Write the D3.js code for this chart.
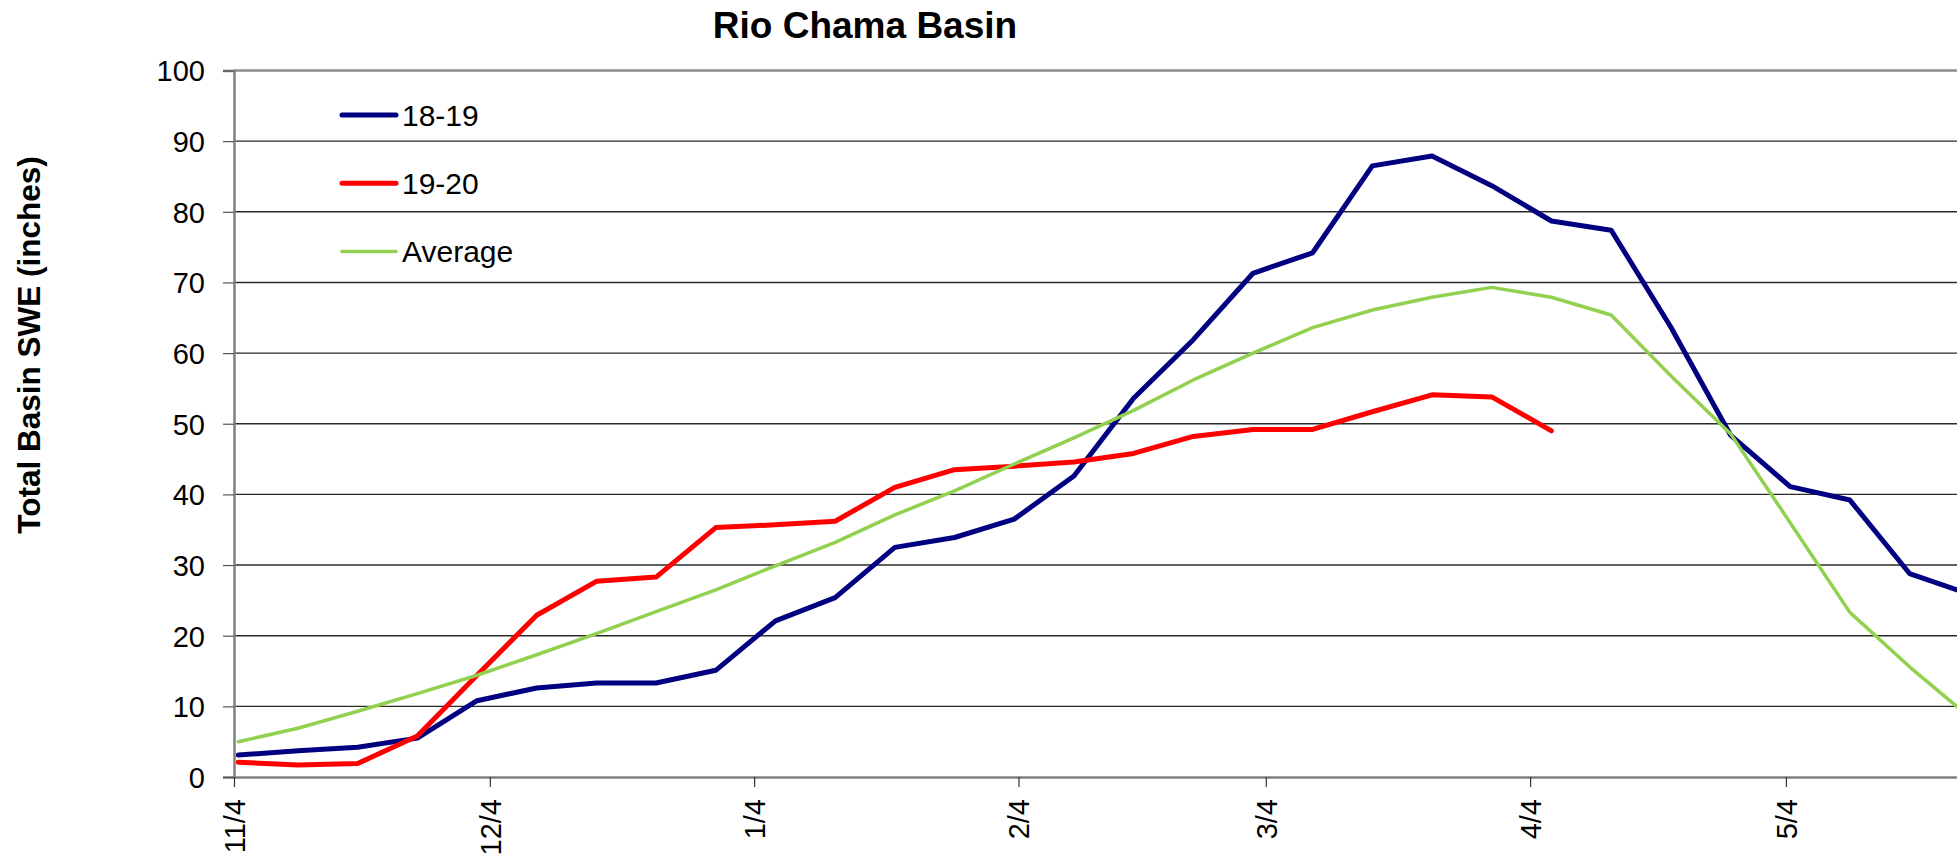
<!DOCTYPE html>
<html>
<head>
<meta charset="utf-8">
<script src="https://cdn.jsdelivr.net/npm/d3@7"></script>
<style>
  body { margin: 0; background: #fff; }
  text { font-family: "Liberation Sans", Arial, sans-serif; fill: #000; }
</style>
</head>
<body>
<div id="chart"></div>
<script>
// weekly dates (axis year 2019-20)
var dates = ["2019-11-04","2019-11-11","2019-11-18","2019-11-25","2019-12-02","2019-12-09",
  "2019-12-16","2019-12-23","2019-12-30","2020-01-06","2020-01-13","2020-01-20","2020-01-27",
  "2020-02-03","2020-02-10","2020-02-17","2020-02-24","2020-03-02","2020-03-09","2020-03-16",
  "2020-03-23","2020-03-30","2020-04-06","2020-04-13","2020-04-20","2020-04-27","2020-05-04",
  "2020-05-11","2020-05-18","2020-05-25"];

var swe1819 = [3.1, 3.7, 4.2, 5.5, 10.8, 12.6, 13.3, 13.3, 15.1, 22.1, 25.4, 32.5, 33.9, 36.5,
  42.6, 53.6, 61.9, 71.3, 74.2, 86.5, 87.9, 83.7, 78.7, 77.4, 63.7, 48.4, 41.1, 39.2, 28.8, 25.9];
var swe1920 = [2.1, 1.7, 1.9, 5.8, 14.4, 22.9, 27.7, 28.3, 35.3, 35.7, 36.2, 41.0, 43.5, 44.0,
  44.6, 45.8, 48.2, 49.2, 49.2, 51.7, 54.1, 53.8, 49.0];
var sweAvg = [5.0, 6.9, 9.3, 11.8, 14.4, 17.3, 20.3, 23.4, 26.5, 29.9, 33.2, 37.1, 40.5, 44.3,
  48.0, 51.9, 56.2, 60.0, 63.6, 66.1, 67.9, 69.3, 67.9, 65.4, 56.8, 48.6, 36.0, 23.3, 15.6, 8.5];

var xTickDates = ["2019-11-04","2019-12-04","2020-01-04","2020-02-04","2020-03-04","2020-04-04","2020-05-04"];
var yTicks = [0, 10, 20, 30, 40, 50, 60, 70, 80, 90, 100];

var seriesNames = ["18-19", "19-20", "Average"];
var seriesColors = ["#000080", "#ff0000", "#92d050"];
var seriesWidths = [5, 5, 3.5];

var width = 1957, height = 859;
var margin = {top: 70.5, left: 234, bottom: 82};
var plotBottom = height - margin.bottom;

var parse = d3.timeParse("%Y-%m-%d");
var fmt = d3.timeFormat("%-m/%-d");
var halfDay = 12 * 3600 * 1000;

var svg = d3.select("#chart").append("svg")
  .attr("width", width)
  .attr("height", height);

// x runs a bit past the right edge, the picture is cut there
var x = d3.scaleTime()
  .domain([parse("2019-11-04"), parse("2020-05-25")])
  .range([margin.left, margin.left + 203 * 8.527]);

var y = d3.scaleLinear()
  .domain([0, 100])
  .range([plotBottom, margin.top]);

// gridlines
svg.append("g").selectAll("line")
  .data(yTicks.filter(d => d > 0 && d < 100))
  .enter().append("line")
  .attr("x1", margin.left).attr("x2", width)
  .attr("y1", d => y(d)).attr("y2", d => y(d))
  .style("stroke", "#2a2a2a")
  .style("stroke-width", 1.4);

// top border of plot area
svg.append("line")
  .attr("x1", margin.left).attr("x2", width)
  .attr("y1", y(100)).attr("y2", y(100))
  .style("stroke", "#8c8c8c").style("stroke-width", 2.5);

// y axis
var yAxis = d3.axisLeft(y).tickValues(yTicks).tickSize(11).tickPadding(18);
var gy = svg.append("g")
  .attr("transform", "translate(" + margin.left + ",0)")
  .call(yAxis);
gy.select(".domain").style("stroke", "#808080").style("stroke-width", 2.5);
gy.selectAll(".tick line").style("stroke", "#555").style("stroke-width", 1.2);
gy.selectAll(".tick text")
  .style("font-size", "29px")
  .style("font-family", "'Liberation Sans', Arial, sans-serif")
  .attr("dy", "0.36em");

// x axis
var xAxis = d3.axisBottom(x)
  .tickValues(xTickDates.map(parse))
  .tickFormat(fmt)
  .tickSize(10)
  .tickSizeOuter(0);
var gx = svg.append("g")
  .attr("transform", "translate(0," + plotBottom + ")")
  .call(xAxis);
gx.select(".domain").style("stroke", "#808080").style("stroke-width", 2.5);
gx.selectAll(".tick line").style("stroke", "#333").style("stroke-width", 1.2);
gx.selectAll(".tick text")
  .style("font-size", "29px")
  .style("font-family", "'Liberation Sans', Arial, sans-serif")
  .style("text-anchor", "end")
  .attr("x", 0).attr("y", 0)
  .attr("dy", "0.36em")
  .attr("transform", "translate(0,22) rotate(-90)");

// lines
var allSeries = [swe1819, swe1920, sweAvg];
var line = d3.line()
  .x((d, i) => x(parse(dates[i]).getTime() + halfDay))
  .y(d => y(d));

svg.append("g").selectAll("path")
  .data(allSeries)
  .enter().append("path")
  .attr("d", d => line(d))
  .style("fill", "none")
  .style("stroke", (d, i) => seriesColors[i])
  .style("stroke-width", (d, i) => seriesWidths[i])
  .style("stroke-linejoin", "round")
  .style("stroke-linecap", "round");

// legend
var legend = svg.append("g").attr("transform", "translate(342,115)");
var items = legend.selectAll("g")
  .data(seriesNames)
  .enter().append("g")
  .attr("transform", (d, i) => "translate(0," + i * 68.3 + ")");
items.append("line")
  .attr("x1", 0).attr("x2", 54)
  .attr("y1", 0).attr("y2", 0)
  .style("stroke", (d, i) => seriesColors[i])
  .style("stroke-width", (d, i) => seriesWidths[i])
  .style("stroke-linecap", "round");
items.append("text")
  .attr("x", 60).attr("y", 0).attr("dy", "0.36em")
  .style("font-size", "30px")
  .text(d => d);

// title
svg.append("text")
  .attr("x", 865).attr("y", 38)
  .style("text-anchor", "middle")
  .style("font-size", "37px")
  .style("font-weight", "bold")
  .text("Rio Chama Basin");

// y label
svg.append("text")
  .attr("transform", "translate(40,345) rotate(-90)")
  .style("text-anchor", "middle")
  .style("font-size", "31.5px")
  .style("font-weight", "bold")
  .text("Total Basin SWE (inches)");
</script>
</body>
</html>
